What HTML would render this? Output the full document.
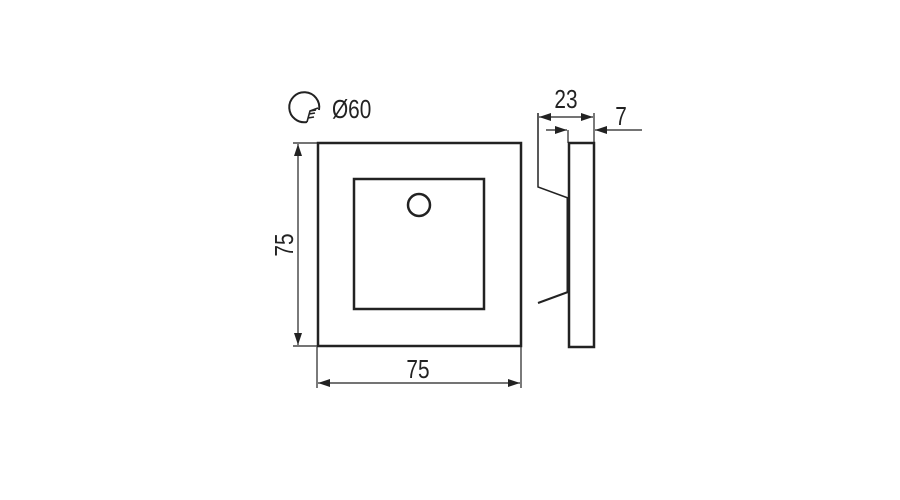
<!DOCTYPE html>
<html><head><style>
html,body{margin:0;padding:0;background:#fff;}
svg{display:block;}
text{font-family:"Liberation Sans Narrow","Liberation Sans",sans-serif;fill:#222;}
</style></head><body>
<svg width="900" height="500" viewBox="0 0 900 500">
<defs>
<marker id="a" markerWidth="12" markerHeight="8" refX="12" refY="4" orient="auto-start-reverse" markerUnits="userSpaceOnUse">
<path d="M0,0 L12,4 L0,8 z" fill="#222"/></marker>
</defs>
<g stroke="#222" fill="none">
<rect x="318" y="143" width="203" height="203" stroke-width="2.5"/>
<rect x="354" y="179" width="130" height="130" stroke-width="2.5"/>
<circle cx="419" cy="205" r="11" stroke-width="2.5"/>
<line x1="293" y1="143" x2="317" y2="143" stroke-width="1.2"/>
<line x1="293" y1="346" x2="317" y2="346" stroke-width="1.2"/>
<line x1="298" y1="144" x2="298" y2="345" stroke-width="1.2" marker-start="url(#a)" marker-end="url(#a)"/>
<line x1="317" y1="347" x2="317" y2="388" stroke-width="1.2"/>
<line x1="521" y1="347" x2="521" y2="388" stroke-width="1.2"/>
<line x1="318" y1="383" x2="520" y2="383" stroke-width="1.2" marker-start="url(#a)" marker-end="url(#a)"/>
<rect x="569" y="143" width="25" height="204" stroke-width="2.5"/>
<line x1="568" y1="198" x2="568" y2="292" stroke-width="3"/>
<polyline points="538,113 538,187 568,198" stroke-width="1.5"/>
<line x1="538" y1="303" x2="568" y2="292" stroke-width="2"/>
<line x1="594" y1="113" x2="594" y2="143" stroke-width="1.2"/>
<line x1="568" y1="130" x2="568" y2="143" stroke-width="1.2"/>
<line x1="539" y1="117" x2="593" y2="117" stroke-width="1.2" marker-start="url(#a)" marker-end="url(#a)"/>
<line x1="546" y1="130" x2="567" y2="130" stroke-width="1.2" marker-end="url(#a)"/>
<line x1="642" y1="130" x2="595" y2="130" stroke-width="1.2" marker-end="url(#a)"/>
<path d="M307,122 A15,15 0 1 1 319,110" stroke-width="2"/>
<path d="M307,122 L310,111 L318,108 M310,111 L316,110 M309,114 L315,113 M308,118 L314,117" stroke-width="1.6"/>
</g>
<g font-size="26">
<text transform="translate(332,118) scale(0.8,1)">Ø60</text>
<text transform="translate(418,378) scale(0.8,1)" text-anchor="middle">75</text>
<text transform="translate(293,245) rotate(-90) scale(0.8,1)" text-anchor="middle">75</text>
<text transform="translate(566,108) scale(0.8,1)" text-anchor="middle">23</text>
<text transform="translate(621,125) scale(0.8,1)" text-anchor="middle">7</text>
</g>
</svg>
</body></html>
